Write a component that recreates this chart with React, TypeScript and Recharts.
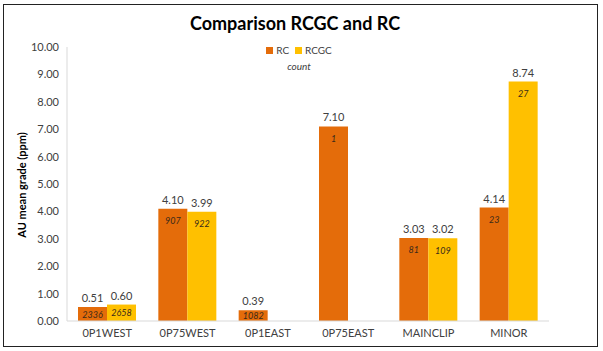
import { BarChart, Bar, XAxis, YAxis, LabelList, Legend } from "recharts";

const categories = ["0P1WEST", "0P75WEST", "0P1EAST", "0P75EAST", "MAINCLIP", "MINOR"];
const rcGrade = [0.51, 4.1, 0.39, 7.1, 3.03, 4.14];
const rcgcGrade: (number | null)[] = [0.6, 3.99, null, null, 3.02, 8.74];
const rcCount = [2336, 907, 1082, 1, 81, 23];
const rcgcCount: (number | null)[] = [2658, 922, null, null, 109, 27];
const yTicks = [0, 1, 2, 3, 4, 5, 6, 7, 8, 9, 10];

const RC_COLOR = "#E46C0A";
const RCGC_COLOR = "#FFC000";
const FONT = "Lato, 'Open Sans', sans-serif";

const chartData = categories.map((name, i) => ({
  name,
  rc: rcGrade[i],
  rcgc: rcgcGrade[i],
  rcCount: rcCount[i],
  rcgcCount: rcgcCount[i],
}));

const fmtGrade = (v: any) => (v == null ? "" : Number(v).toFixed(2));

// count sits near the top of the bar, but stays inside short bars
const CountLabel = (props: any) => {
  const { x, y, width, height, value } = props;
  if (value == null) return null;
  const cy = y + Math.min(12, height / 2);
  return (
    <text
      x={x + width / 2}
      y={cy}
      textAnchor="middle"
      dominantBaseline="central"
      fontFamily={FONT}
      fontSize={9}
      fontStyle="italic"
      fill="#3a2a1a"
    >
      {value}
    </text>
  );
};

const LegendBox = () => (
  <div style={{ fontFamily: FONT, fontSize: 10, color: "#404040", textAlign: "center", lineHeight: "16px" }}>
    <div style={{ display: "flex", justifyContent: "center", alignItems: "center", gap: 6 }}>
      <span style={{ display: "flex", alignItems: "center", gap: 3 }}>
        <span style={{ width: 7, height: 7, background: RC_COLOR, display: "inline-block" }} />
        RC
      </span>
      <span style={{ display: "flex", alignItems: "center", gap: 3 }}>
        <span style={{ width: 7, height: 7, background: RCGC_COLOR, display: "inline-block" }} />
        RCGC
      </span>
    </div>
    <div style={{ fontStyle: "italic" }}>count</div>
  </div>
);

export default function App() {
  return (
    <div style={{ position: "absolute", left: 0, top: 0, width: 603, height: 351, background: "#fff" }}>
      <div
        style={{
          position: "absolute",
          left: 3,
          top: 4,
          width: 593,
          height: 341,
          border: "1px solid #222",
          pointerEvents: "none",
        }}
      />
      <div
        style={{
          position: "absolute",
          left: 0,
          top: 12,
          width: 590,
          textAlign: "center",
          fontFamily: FONT,
          fontWeight: 700,
          fontSize: 18,
          color: "#000",
        }}
      >
        Comparison RCGC and RC
      </div>
      <BarChart
        width={603}
        height={351}
        data={chartData}
        margin={{ top: 47, right: 54, bottom: 0, left: 0 }}
        barSize={29}
        barGap={0}
      >
        <XAxis
          dataKey="name"
          height={30}
          tickLine={false}
          axisLine={{ stroke: "#d9d9d9" }}
          tick={{ fontSize: 11, fill: "#404040", fontFamily: FONT }}
          interval={0}
        />
        <YAxis
          width={67}
          domain={[0, 10]}
          ticks={yTicks}
          tickFormatter={(v: number) => v.toFixed(2)}
          tickLine={false}
          axisLine={{ stroke: "#d9d9d9" }}
          tick={{ fontSize: 11, fill: "#404040", fontFamily: FONT }}
          label={{
            content: () => (
              <text
                x={23}
                y={185}
                transform="rotate(-90 23 185)"
                textAnchor="middle"
                dominantBaseline="middle"
                fontFamily={FONT}
                fontWeight={700}
                fontSize={11}
                fill="#000"
              >
                AU mean grade (ppm)
              </text>
            ),
          }}
        />
        <Legend
          layout="vertical"
          align="center"
          verticalAlign="top"
          content={() => <LegendBox />}
          wrapperStyle={{ position: "absolute", top: 42, left: 0, width: 598, height: 0, overflow: "visible" }}
        />
        <Bar dataKey="rc" name="RC" fill={RC_COLOR} isAnimationActive={false}>
          <LabelList dataKey="rc" position="top" offset={5} formatter={fmtGrade}
            style={{ fontSize: 11, fill: "#404040", fontFamily: FONT }} />
          <LabelList dataKey="rcCount" content={CountLabel} />
        </Bar>
        <Bar dataKey="rcgc" name="RCGC" fill={RCGC_COLOR} isAnimationActive={false}>
          <LabelList dataKey="rcgc" position="top" offset={5} formatter={fmtGrade}
            style={{ fontSize: 11, fill: "#404040", fontFamily: FONT }} />
          <LabelList dataKey="rcgcCount" content={CountLabel} />
        </Bar>
      </BarChart>
    </div>
  );
}
